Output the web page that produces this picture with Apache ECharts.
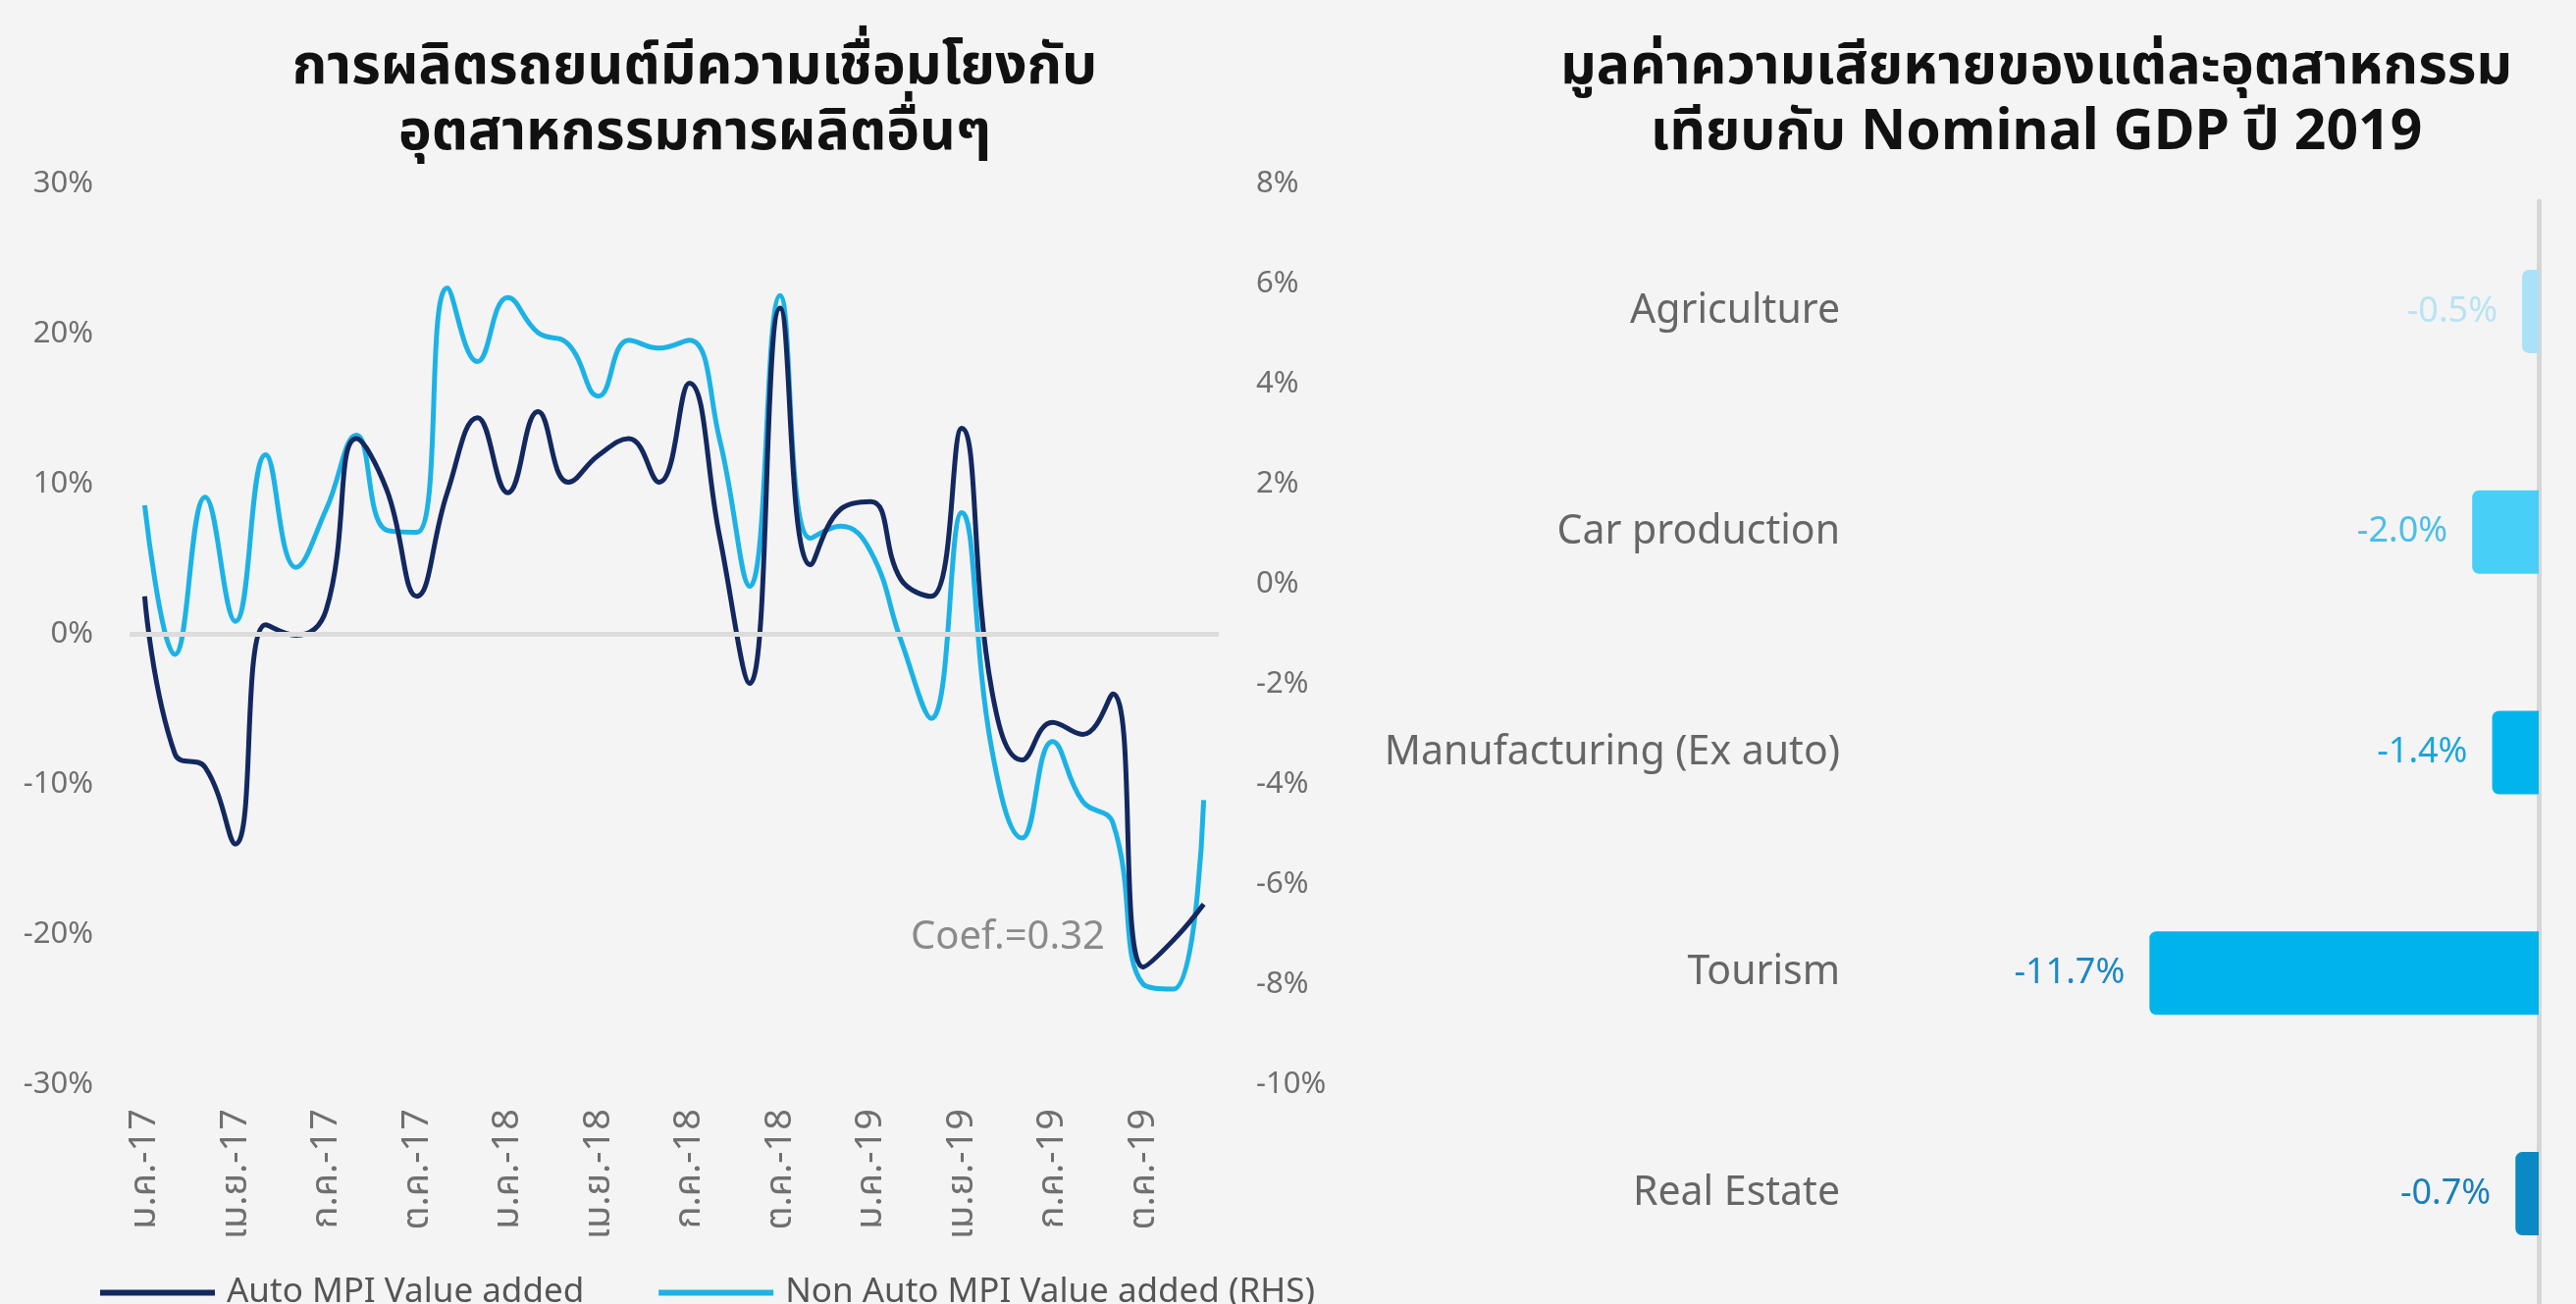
<!DOCTYPE html>
<html style="height: 100%">
<head>
    <meta charset="utf-8">
    <title>Auto MPI vs industries</title>
</head>
<body style="height: 100%; margin: 0; background: #f4f4f4;">
<div id="container" style="width: 2625px; height: 1329px;"></div>
<script src="https://cdn.jsdelivr.net/npm/echarts@6/dist/echarts.min.js"></script>
<script type="text/javascript">

    // months Jan-17 .. Dec-19
    var months = [
        'ม.ค.-17', 'ก.พ.-17', 'มี.ค.-17', 'เม.ย.-17', 'พ.ค.-17', 'มิ.ย.-17', 'ก.ค.-17', 'ส.ค.-17', 'ก.ย.-17', 'ต.ค.-17', 'พ.ย.-17', 'ธ.ค.-17',
        'ม.ค.-18', 'ก.พ.-18', 'มี.ค.-18', 'เม.ย.-18', 'พ.ค.-18', 'มิ.ย.-18', 'ก.ค.-18', 'ส.ค.-18', 'ก.ย.-18', 'ต.ค.-18', 'พ.ย.-18', 'ธ.ค.-18',
        'ม.ค.-19', 'ก.พ.-19', 'มี.ค.-19', 'เม.ย.-19', 'พ.ค.-19', 'มิ.ย.-19', 'ก.ค.-19', 'ส.ค.-19', 'ก.ย.-19', 'ต.ค.-19', 'พ.ย.-19', 'ธ.ค.-19'
    ];
    // Auto MPI value added, %YoY (left axis)
    var autoMpi = [
        2.5, -8.0, -8.9, -14.0, 0.6, -0.1, 1.6, 13.0, 9.6, 2.5, 9.4, 14.4,
        9.4, 14.8, 10.1, 11.9, 13.0, 10.1, 16.7, 6.5, -3.3, 21.7, 4.6, 8.3,
        8.8, 3.6, 2.5, 13.7, -3.8, -8.4, -5.9, -6.7, -4.0, -22.2, -20.4, -18.0
    ];
    // Non auto MPI value added, %YoY (right axis)
    var nonAutoMpi = [
        1.57, -1.41, 1.73, -0.75, 2.58, 0.33, 1.49, 2.97, 1.07, 1.03, 5.91, 4.44,
        5.72, 5.02, 4.79, 3.75, 4.87, 4.71, 4.87, 2.89, -0.05, 5.76, 0.91, 1.15,
        0.64, -1.14, -2.69, 1.42, -3.32, -5.08, -3.15, -4.35, -4.78, -8.0, -8.1, -4.32
    ];
    var coefText = 'Coef.=0.32';

    // damage vs nominal GDP 2019
    var sectors = ['Agriculture', 'Car production', 'Manufacturing (Ex auto)', 'Tourism', 'Real Estate'];
    var losses = [-0.5, -2.0, -1.4, -11.7, -0.7];
    var barColors = ['#a9e2f7', '#47cff7', '#00b5ec', '#00b3ea', '#0b89c4'];
    var labelColors = ['#b9e3f3', '#4bbfe9', '#1aa6dc', '#1b88c4', '#1a80ba'];

    var font = "'Noto Sans', 'Noto Sans Thai', 'DejaVu Sans', sans-serif";
    var gray = '#6f6f6f';

    var dom = document.getElementById('container');
    var myChart = echarts.init(dom);

    var option = {
        backgroundColor: '#f4f4f4',
        textStyle: { fontFamily: font },
        title: [
            {
                text: 'การผลิตรถยนต์มีความเชื่อมโยงกับ\nอุตสาหกรรมการผลิตอื่นๆ',
                left: 703, top: 30, textAlign: 'center',
                textStyle: { fontSize: 57, fontWeight: 'bold', color: '#111', lineHeight: 67, fontFamily: font }
            },
            {
                text: 'มูลค่าความเสียหายของแต่ละอุตสาหกรรม\nเทียบกับ Nominal GDP ปี 2019',
                left: 2070, top: 30, textAlign: 'center',
                textStyle: { fontSize: 57, fontWeight: 'bold', color: '#111', lineHeight: 67, fontFamily: font }
            }
        ],
        legend: {
            data: ['Auto MPI Value added', 'Non Auto MPI Value added (RHS)'],
            left: 97, top: 1295,
            icon: 'rect',
            itemWidth: 117, itemHeight: 6, itemGap: 76,
            textStyle: { fontSize: 35, color: '#555', padding: [0, 0, 0, 7] }
        },
        grid: [
            { left: 132, right: 1383, top: 187, bottom: 224 },
            { left: 1909, right: 38, top: 205, bottom: -6 }
        ],
        xAxis: [
            {
                gridIndex: 0, type: 'category', data: months, boundaryGap: true,
                axisLine: { show: false }, axisTick: { show: false },
                axisLabel: { interval: 2, rotate: 90, fontSize: 38, color: gray, margin: 25 }
            },
            {
                gridIndex: 1, type: 'value', min: -20, max: 0,
                axisLine: { show: false }, axisTick: { show: false },
                axisLabel: { show: false }, splitLine: { show: false }
            }
        ],
        yAxis: [
            {
                gridIndex: 0, type: 'value', min: -30, max: 30, interval: 10,
                axisLabel: { formatter: '{value}%', fontSize: 31, color: gray, margin: 37 },
                splitLine: { show: false }, axisLine: { show: false }, axisTick: { show: false }
            },
            {
                gridIndex: 0, type: 'value', min: -10, max: 8, interval: 2, position: 'right',
                axisLabel: { formatter: '{value}%', fontSize: 31, color: gray, margin: 38 },
                splitLine: { show: false }, axisLine: { show: false }, axisTick: { show: false }
            },
            {
                gridIndex: 1, type: 'category', data: sectors, inverse: true, position: 'left',
                axisLine: { show: false }, axisTick: { show: false },
                axisLabel: { fontSize: 41, color: '#666', margin: 34 }
            },
            {
                gridIndex: 1, type: 'category', data: sectors, inverse: true, position: 'right',
                axisLine: { show: true, lineStyle: { color: '#d6d6d6', width: 5 } },
                axisTick: { show: false }, axisLabel: { show: false }
            }
        ],
        graphic: [
            {
                type: 'text', left: 928, top: 936,
                style: { text: coefText, fontSize: 40, fill: '#8a8a8a', fontFamily: font }
            }
        ],
        series: [
            {
                name: 'Auto MPI Value added', type: 'line',
                xAxisIndex: 0, yAxisIndex: 0, data: autoMpi,
                smooth: 0.45, showSymbol: false, z: 3,
                lineStyle: { color: '#13285f', width: 5 },
                itemStyle: { color: '#13285f' },
                markLine: {
                    silent: true, symbol: 'none', label: { show: false },
                    lineStyle: { color: '#dcdcdc', width: 5, type: 'solid' },
                    data: [{ yAxis: 0 }]
                }
            },
            {
                name: 'Non Auto MPI Value added (RHS)', type: 'line',
                xAxisIndex: 0, yAxisIndex: 1, data: nonAutoMpi,
                smooth: 0.45, showSymbol: false, z: 2,
                lineStyle: { color: '#1cb2e6', width: 5 },
                itemStyle: { color: '#1cb2e6' }
            },
            {
                type: 'bar', xAxisIndex: 1, yAxisIndex: 2,
                barWidth: 85,
                data: losses.map(function (v, i) {
                    return {
                        value: v,
                        itemStyle: { color: barColors[i], borderRadius: [7, 0, 0, 7] },
                        label: { color: labelColors[i] }
                    };
                }),
                label: {
                    show: true, position: 'left', distance: 25, fontSize: 36,
                    formatter: function (p) { return p.value.toFixed(1) + '%'; }
                }
            }
        ]
    };

    myChart.setOption(option, true);

</script>
</body>
</html>
